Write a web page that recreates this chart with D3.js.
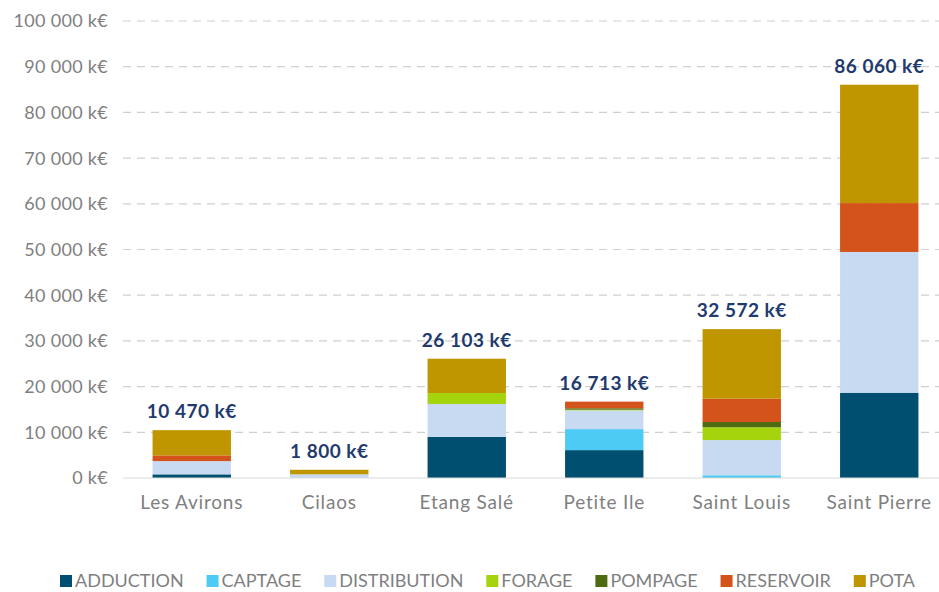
<!DOCTYPE html>
<html>
<head>
<meta charset="utf-8">
<script src="https://cdn.jsdelivr.net/npm/d3@7"></script>
<style>
  body { margin: 0; background: #fff; }
  text { font-family: "Lato", "Noto Sans", sans-serif; }
</style>
</head>
<body>
<div id="chart"></div>
<script>
const communes = ["Les Avirons", "Cilaos", "Etang Salé", "Petite Ile", "Saint Louis", "Saint Pierre"]
const postes = ["ADDUCTION", "CAPTAGE", "DISTRIBUTION", "FORAGE", "POMPAGE", "RESERVOIR", "POTA"]
const couleurs = ["#004f71", "#4ecbf5", "#c8daf2", "#a6d40c", "#4e6b12", "#d4531b", "#bf9500"]

// k€ par poste, une valeur par commune
const adduction    = [800,  0,    9000, 6100, 0,     18660]
const captage      = [0,    0,    0,    4600, 600,   0]
const distribution = [2900, 800,  7200, 4100, 7700,  30800]
const forage       = [0,    0,    2400, 150,  2800,  0]
const pompage      = [0,    0,    0,    300,  1150,  0]
const reservoir    = [1250, 0,    0,    1463, 5100,  10700]
const pota         = [5520, 1000, 7503, 0,    15222, 25900]

const yTicks = [0, 10000, 20000, 30000, 40000, 50000, 60000, 70000, 80000, 90000, 100000]

const series = [adduction, captage, distribution, forage, pompage, reservoir, pota]
const rows = communes.map((c, i) => {
  let r = { commune: c }
  postes.forEach((p, j) => r[p] = series[j][i])
  return r
})

const width = 939, height = 592
const margin = { top: 21, right: -9, bottom: 114, left: 123 }

const fr = d3.formatLocale({ decimal: ",", thousands: "\u00a0", grouping: [3], currency: ["", " €"] })
const fmt = v => fr.format(",")(v) + " k€"

const svg = d3.select("#chart").append("svg")
  .attr("width", width)
  .attr("height", height)

const x = d3.scaleBand().domain(communes)
  .range([margin.left, width - margin.right])
  .paddingInner(0.43).paddingOuter(0.215)
const y = d3.scaleLinear().domain([0, 100000]).range([height - margin.bottom, margin.top])

// grid
svg.append("g").selectAll("line").data(yTicks.slice(1)).join("line")
  .attr("x1", margin.left).attr("x2", width)
  .attr("y1", d => y(d)).attr("y2", d => y(d))
  .attr("stroke", "#d0d0d0").attr("stroke-width", 1.2)
  .attr("stroke-dasharray", "8,6")

// y labels
svg.append("g").selectAll("text").data(yTicks).join("text")
  .attr("x", 108).attr("y", d => y(d))
  .attr("dy", "0.36em")
  .attr("text-anchor", "end")
  .attr("font-size", 18)
  .attr("letter-spacing", 0.3)
  .attr("fill", "#7f7f7f")
  .text(fmt)

// stacks
const stack = d3.stack().keys(postes)(rows)
svg.append("g").selectAll("g").data(stack).join("g")
  .attr("fill", (d, i) => couleurs[i])
  .selectAll("rect").data(d => d).join("rect")
  .attr("x", d => x(d.data.commune))
  .attr("width", x.bandwidth())
  .attr("y", d => y(d[1]))
  .attr("height", d => y(d[0]) - y(d[1]))

// baseline
svg.append("line")
  .attr("x1", margin.left).attr("x2", width)
  .attr("y1", y(0)).attr("y2", y(0))
  .attr("stroke", "#d9d9d9").attr("stroke-width", 1.2)

// totals
svg.append("g").selectAll("text").data(rows).join("text")
  .attr("x", d => x(d.commune) + x.bandwidth() / 2)
  .attr("y", d => y(d3.sum(postes, p => d[p])) - 12)
  .attr("text-anchor", "middle")
  .attr("font-size", 19)
  .attr("letter-spacing", 0.5)
  .attr("font-weight", "bold")
  .attr("fill", "#1f3b6e")
  .text(d => fmt(d3.sum(postes, p => d[p])))

// category labels
svg.append("g").selectAll("text").data(communes).join("text")
  .attr("x", d => x(d) + x.bandwidth() / 2)
  .attr("y", 509)
  .attr("text-anchor", "middle")
  .attr("font-size", 19)
  .attr("letter-spacing", 0.8)
  .attr("fill", "#7f7f7f")
  .text(d => d)

// legend, spread from x=60 to x=915
const leg = svg.append("g")
const items = postes.map((p, i) => {
  let g = leg.append("g")
  g.append("rect").attr("x", 0).attr("y", 575).attr("width", 12).attr("height", 12).attr("fill", couleurs[i])
  let t = g.append("text").attr("x", 15).attr("y", 587)
    .attr("font-size", 18).attr("fill", "#7f7f7f").text(p)
  return { g, w: 15 + t.node().getComputedTextLength() }
})
const used = d3.sum(items, d => d.w)
const gap = (915 - 60 - used) / (items.length - 1)
let lx = 60
items.forEach(d => {
  d.g.attr("transform", `translate(${lx},0)`)
  lx += d.w + gap
})
</script>
</body>
</html>
